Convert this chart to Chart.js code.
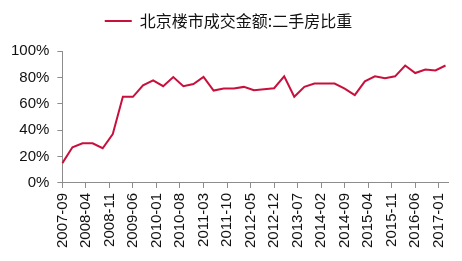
<!DOCTYPE html>
<html>
<head>
<meta charset="utf-8">
<script src="https://cdn.jsdelivr.net/npm/chart.js@4/dist/chart.umd.min.js"></script>
<style>
  html, body { margin: 0; padding: 0; background: #fff; }
  #wrap { width: 462px; height: 261px; }
</style>
</head>
<body>
<div id="wrap"><canvas id="c" width="462" height="261"></canvas></div>
<script>
// Series name
const seriesName = '北京楼市成交金额:二手房比重';
// Quarterly observation months
const quarters = [
  '2007-09','2007-12','2008-03','2008-06','2008-09','2008-12',
  '2009-03','2009-06','2009-09','2009-12','2010-03','2010-06',
  '2010-09','2010-12','2011-03','2011-06','2011-09','2011-12',
  '2012-03','2012-06','2012-09','2012-12','2013-03','2013-06',
  '2013-09','2013-12','2014-03','2014-06','2014-09','2014-12',
  '2015-03','2015-06','2015-09','2015-12','2016-03','2016-06',
  '2016-09','2016-12','2017-03'
];
// Second-hand share of transaction value (%)
const shares = [
  15.0, 27.0, 30.0, 30.0, 26.3, 37.0,
  65.3, 65.3, 74.0, 77.8, 73.3, 80.3,
  73.3, 75.0, 80.3, 70.0, 71.5, 71.5,
  72.8, 70.3, 71.0, 71.8, 80.8, 65.3,
  72.8, 75.3, 75.3, 75.3, 71.5, 66.5,
  77.0, 80.8, 79.3, 80.8, 89.0, 83.3,
  86.0, 85.3, 89.0
];
// Labelled ticks on the time axis
const tickLabels = [
  '2007-09','2008-04','2008-11','2009-06','2010-01','2010-08',
  '2011-03','2011-10','2012-05','2012-12','2013-07','2014-02',
  '2014-09','2015-04','2015-11','2016-06','2017-01'
];
// Axis range (months)
const axisStart = '2007-09';
const axisEnd = '2017-04';

// Build monthly category labels for the axis
function buildMonths(a, b) {
  let [y, m] = a.split('-').map(Number);
  const [ye, me] = b.split('-').map(Number);
  const out = [];
  while (y < ye || (y === ye && m <= me)) {
    out.push(y + '-' + String(m).padStart(2, '0'));
    m++; if (m > 12) { m = 1; y++; }
  }
  return out;
}
const months = buildMonths(axisStart, axisEnd);
const points = quarters.map((q, i) => ({ x: q, y: shares[i] }));

const RED = '#C8103C';
const AXIS = '#8c8c8c';

const legendMargin = {
  id: 'legendMargin',
  beforeInit(chart) {
    const fit = chart.legend.fit;
    chart.legend.fit = function () {
      fit.bind(chart.legend)();
      this.height += 12;
    };
  }
};

new Chart(document.getElementById('c'), {
  type: 'line',
  data: {
    labels: months,
    datasets: [{
      label: seriesName,
      data: points,
      borderColor: RED,
      backgroundColor: RED,
      borderWidth: 2,
      pointRadius: 0,
      pointHoverRadius: 0,
      tension: 0,
      fill: false
    }]
  },
  plugins: [legendMargin],
  options: {
    responsive: false,
    animation: false,
    devicePixelRatio: 1,
    layout: { padding: { left: 3, right: 8, top: 1, bottom: 8 } },
    plugins: {
      tooltip: { enabled: false },
      legend: {
        display: true,
        position: 'top',
        labels: {
          usePointStyle: true,
          pointStyle: 'line',
          pointStyleWidth: 27,
          color: '#111',
          padding: 12,
          font: { family: '"Noto Sans CJK SC", sans-serif', size: 16 }
        }
      }
    },
    scales: {
      x: {
        type: 'category',
        offset: false,
        grid: {
          display: true,
          drawOnChartArea: false,
          drawTicks: true,
          tickLength: 5,
          color: AXIS
        },
        border: { display: true, color: AXIS, width: 1 },
        ticks: {
          autoSkip: false,
          maxRotation: 90,
          minRotation: 90,
          padding: 5,
          color: '#111',
          font: { family: '"Liberation Sans", Arial, sans-serif', size: 15 },
          callback: function(value, index) {
            const lab = months[index];
            return tickLabels.includes(lab) ? lab : null;
          }
        }
      },
      y: {
        min: 0,
        max: 100,
        grid: {
          display: true,
          drawOnChartArea: false,
          drawTicks: true,
          tickLength: 5,
          color: AXIS
        },
        border: { display: true, color: AXIS, width: 1 },
        ticks: {
          stepSize: 20,
          padding: 8,
          color: '#111',
          font: { family: '"Liberation Sans", Arial, sans-serif', size: 15 },
          callback: v => v + '%'
        }
      }
    }
  }
});
</script>
</body>
</html>
